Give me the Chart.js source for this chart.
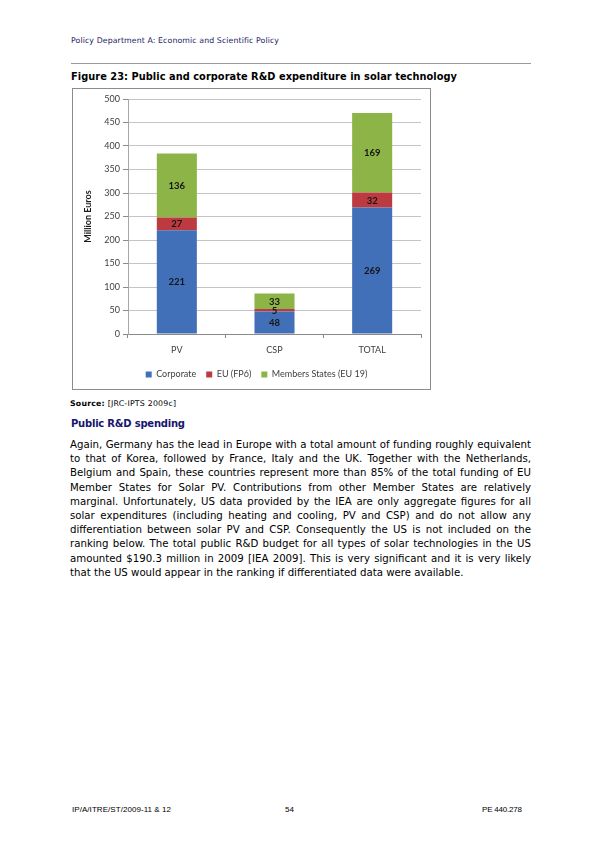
<!DOCTYPE html>
<html>
<head>
<meta charset="utf-8">
<title>Figure 23</title>
<script src="https://cdn.jsdelivr.net/npm/chart.js@4.4.1/dist/chart.umd.min.js"></script>
<style>
    body { margin: 0; background: #fff; }
    #page { position: relative; width: 595px; height: 842px; overflow: hidden; font-family: "DejaVu Sans", Verdana, sans-serif; color: #000; }
    .t { position: absolute; white-space: nowrap; }
    #header { left: 71px; top: 35px; font-size: 7.8px; line-height: 12px; color: #1c1c66; }
    #rule { position: absolute; left: 71px; top: 63px; width: 460px; height: 0; border-top: 1px solid #9a9a9a; }
    #figTitle { left: 71px; top: 71px; font-size: 9.8px; line-height: 12px; font-weight: bold; }
    #box { position: absolute; left: 72px; top: 88px; width: 357px; height: 300px; border: 1px solid #8c8c8c; }
    #source { left: 70px; top: 398px; font-size: 7.8px; line-height: 12px; }
    #heading { left: 71px; top: 417px; font-size: 10px; line-height: 14px; font-weight: bold; color: #16166e; }
    .jl { position: absolute; left: 70px; white-space: nowrap; font-size: 10.2px; line-height: 14px; }
    .foot { position: absolute; top: 805px; font-family: "Liberation Sans", Arial, sans-serif; font-size: 8px; line-height: 10px; white-space: nowrap; }
</style>
</head>
<body>
<div id="page">
    <div class="t" id="header" data-w="208">Policy Department A: Economic and Scientific Policy</div>
    <div id="rule"></div>
    <div class="t" id="figTitle" data-w="386">Figure 23: Public and corporate R&amp;D expenditure in solar technology</div>
    <div id="box"><canvas id="myChart"></canvas></div>
    <div class="t" id="source" data-w="106"><b>Source:</b> [JRC-IPTS 2009c]</div>
    <div class="t" id="heading" data-w="114">Public R&amp;D spending</div>
    <div id="para"></div>
    <div class="foot" style="left:72px" data-w="99">IP/A/ITRE/ST/2009-11 &amp; 12</div>
    <div class="foot" style="left:285px" data-w="9">54</div>
    <div class="foot" style="left:482px" data-w="40">PE 440.278</div>
</div>

<script>
// Chart data
const categories = ["PV", "CSP", "TOTAL"];
const corporate = [221, 48, 269];
const euFp6 = [27, 5, 32];
const memberStates = [136, 33, 169];
const yTicks = [0, 50, 100, 150, 200, 250, 300, 350, 400, 450, 500];

// paragraph text, one entry per printed line
const paraLines = [
    "Again, Germany has the lead in Europe with a total amount of funding roughly equivalent",
    "to that of Korea, followed by France, Italy and the UK. Together with the Netherlands,",
    "Belgium and Spain, these countries represent more than 85% of the total funding of EU",
    "Member States for Solar PV. Contributions from other Member States are relatively",
    "marginal. Unfortunately, US data provided by the IEA are only aggregate figures for all",
    "solar expenditures (including heating and cooling, PV and CSP) and do not allow any",
    "differentiation between solar PV and CSP. Consequently the US is not included on the",
    "ranking below. The total public R&D budget for all types of solar technologies in the US",
    "amounted $190.3 million in 2009 [IEA 2009]. This is very significant and it is very likely",
    "that the US would appear in the ranking if differentiated data were available.",
];

const para = document.getElementById("para");
paraLines.forEach((line, i) => {
    const d = document.createElement("div");
    d.className = "jl";
    d.style.top = (438 + i * 14.2) + "px";
    d.textContent = line;
    if (i < paraLines.length - 1) d.dataset.just = "461";
    para.appendChild(d);
});

// stretch text to the widths measured on the printed page
document.querySelectorAll("[data-w]").forEach((el) => {
    const target = +el.dataset.w;
    const natural = el.getBoundingClientRect().width;
    const n = el.textContent.length - 1;
    el.style.letterSpacing = (target - natural) / n + "px";
});
document.querySelectorAll("[data-just]").forEach((el) => {
    const natural = el.getBoundingClientRect().width;
    const spaces = (el.textContent.match(/ /g) || []).length;
    el.style.wordSpacing = (+el.dataset.just - natural) / spaces + "px";
});

// value labels in the middle of each segment
const segmentLabels = {
    id: "segmentLabels",
    afterDatasetsDraw(chart) {
        const ctx = chart.ctx;
        ctx.save();
        ctx.font = "bold 9.5px Lato";
        ctx.fillStyle = "#141414";
        ctx.textAlign = "center";
        ctx.textBaseline = "middle";
        chart.data.datasets.forEach((ds, i) => {
            chart.getDatasetMeta(i).data.forEach((bar, j) => {
                ctx.fillText(ds.data[j], bar.x, (bar.y + bar.base) / 2 + 0.5);
            });
        });
        ctx.restore();
    },
};

const ctx = document.getElementById("myChart").getContext("2d");
const barChart = new Chart(ctx, {
    type: "bar",
    data: {
        labels: categories,
        datasets: [
            { label: "Corporate", data: corporate, backgroundColor: "#4270b8" },
            { label: "EU (FP6)", data: euFp6, backgroundColor: "#bd3b40" },
            { label: "Members States (EU 19)", data: memberStates, backgroundColor: "#8db446" },
        ],
    },
    options: {
        responsive: true,
        maintainAspectRatio: false,
        animation: false,
        layout: { padding: { top: 10, left: 19, right: 9, bottom: 0 } },
        datasets: { bar: { barPercentage: 0.41, categoryPercentage: 1 } },
        plugins: {
            tooltip: { enabled: false },
            legend: {
                position: "bottom",
                labels: {
                    boxWidth: 6,
                    boxHeight: 6,
                    padding: 10,
                    color: "#404040",
                    font: { family: "Lato", size: 9 },
                },
            },
        },
        scales: {
            x: {
                stacked: true,
                afterFit: (scale) => { scale.height = 26; },
                border: { color: "#8a8a8a" },
                grid: { display: true, drawOnChartArea: false, offset: true, tickLength: 4, tickColor: "#8a8a8a" },
                ticks: { color: "#404040", padding: 7, font: { family: "Lato", size: 9 } },
            },
            y: {
                stacked: true,
                min: 0,
                max: 500,
                afterFit: (scale) => { scale.width = 36; },
                afterBuildTicks: (scale) => { scale.ticks = yTicks.map((v) => ({ value: v })); },
                border: { color: "#a6a6a6" },
                grid: { color: "#c4c4c4", tickLength: 5, tickColor: "#8a8a8a" },
                ticks: { color: "#404040", padding: 3, font: { family: "Lato", size: 9 } },
                title: {
                    display: true,
                    text: "Million Euros",
                    color: "#1a1a1a",
                    padding: { top: -9, bottom: 0 },
                    font: { family: "Lato", size: 9, weight: "bold" },
                },
            },
        },
    },
    plugins: [segmentLabels],
});
</script>
</body>
</html>
